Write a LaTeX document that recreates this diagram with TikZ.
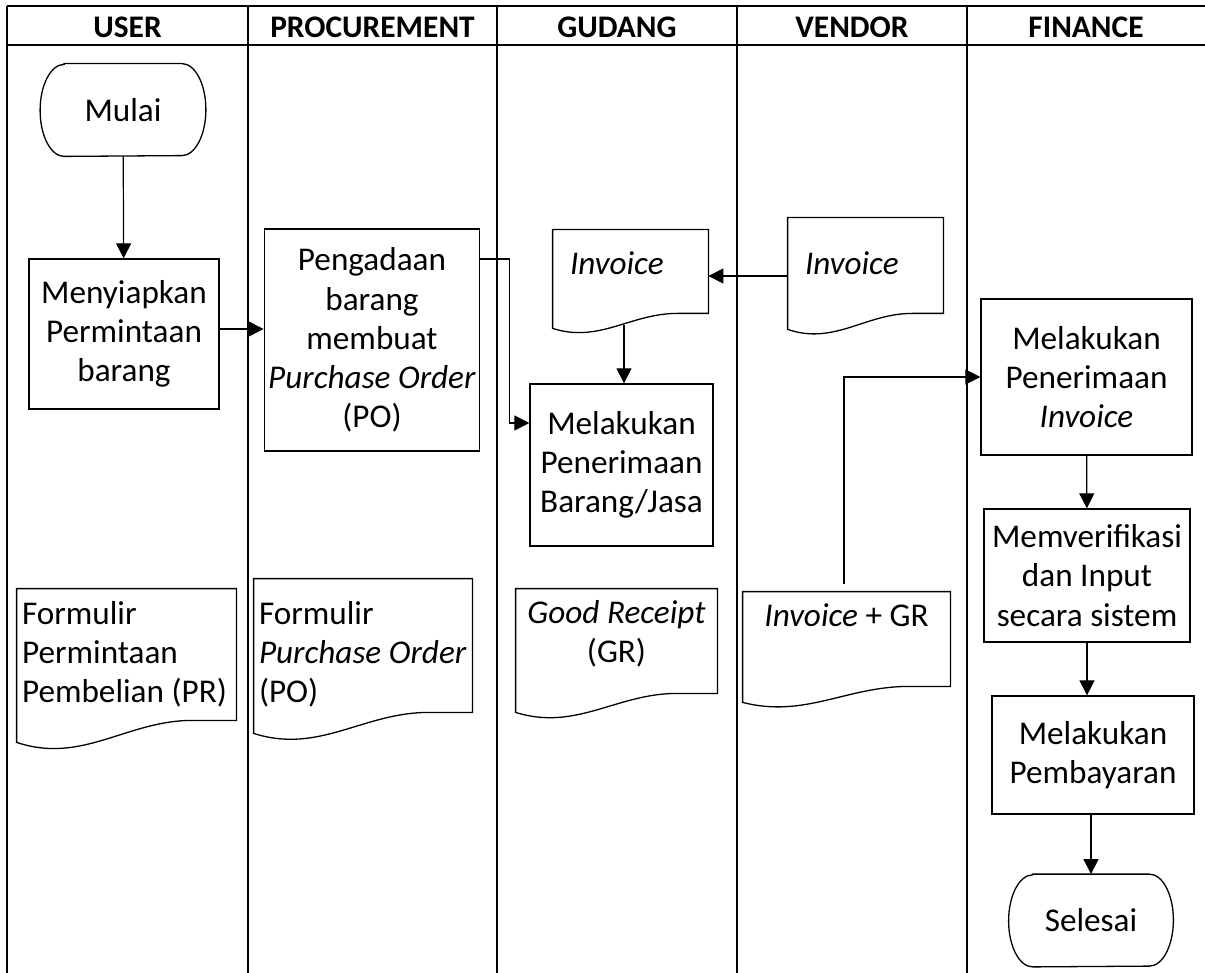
\documentclass[tikz,border=0pt]{standalone}
\usepackage{fontspec}
\setmainfont{Carlito}
\usetikzlibrary{calc,arrows.meta}

\newcommand{\isi}{\fontsize{16.6pt}{19.6pt}\selectfont}
\newcommand{\judul}{\fontsize{15.7pt}{18pt}\selectfont\bfseries}

\tikzset{
	lajur/.style={line width=1pt},
	bentuk/.style={line width=0.65pt},
	proses/.style={draw, bentuk, align=center, font=\isi, inner sep=2pt},
	dok/.style={font=\isi, align=flush left, inner sep=0pt},
	ujungnode/.style={font=\isi, minimum height=46pt},
	panah/.style={-{Triangle[length=7.5pt, width=7.5pt]}, line width=0.6pt}
}

% #1 node, #2 sisa sisi kanan, #3 dalam gelombang
\newcommand{\dokumen}[3]{%
	\draw [bentuk] (#1.north west) -- (#1.north east) -- ($(#1.south east)+(0,#2)$)
		-- ($(#1.south west)!0.8!(#1.south east)+(0,#2)$)
		.. controls ($(#1.south west)!0.5!(#1.south east)+(0,#2)$) and ($(#1.south west)!0.3!(#1.south east)+(0,#2+2*#3)$)
		.. ($(#1.south west)+(0,#2+#3)$) -- cycle;}

\newcommand{\ujung}[1]{%
	\draw [bentuk] (#1.north west) -- (#1.north east)
		arc [start angle=90, end angle=-90, x radius=12pt, y radius=23pt]
		-- (#1.south west)
		arc [start angle=270, end angle=90, x radius=12pt, y radius=23pt] -- cycle;}

\begin{document}
\begin{tikzpicture}[x=0.5pt, y=-0.5pt]
	%\draw[help lines] (0,0) grid (1205,973);
	\useasboundingbox (0,0) rectangle (1205,973);
	
	\draw [lajur] (7, 6) -- (1205, 6);
	\draw [lajur] (7, 45) -- (1205, 45);
	\draw [lajur] (7, 6) -- (7, 973);
	\draw [lajur] (248, 6) -- (248, 973);
	\draw [lajur] (497, 6) -- (497, 973);
	\draw [lajur] (737, 6) -- (737, 973);
	\draw [lajur] (967, 6) -- (967, 973);
	
	\node [font=\judul] (user) at (127.5, 27) {USER};
	\node [font=\judul] (procurement) at (372.5, 27) {PROCUREMENT};
	\node [font=\judul] (gudang) at (617, 27) {GUDANG};
	\node [font=\judul] (vendor) at (852, 27) {VENDOR};
	\node [font=\judul] (finance) at (1086, 27) {FINANCE};
	
	% user
	\node [ujungnode, minimum width=58.5pt] (mulai) at (123, 110) {Mulai};
	\ujung{mulai}
	\node [proses, minimum width=95pt, minimum height=75pt] (siap) at (124, 334) {Menyiapkan\\Permintaan\\barang};
	\node [dok, minimum width=109.5pt, minimum height=65pt, text width=104.5pt] (pr) at (126.5, 654) {Formulir\\Permintaan\\Pembelian (PR)};
	\dokumen{pr}{1}{22}
	
	% procurement
	\node [proses, minimum width=106pt, minimum height=111pt] (po) at (372, 340) {Pengadaan\\barang\\membuat\\\textit{Purchase Order}\\(PO)};
	\node [dok, minimum width=109pt, minimum height=75pt, text width=104pt] (fpo) at (363, 654) {Formulir\\\textit{Purchase Order}\\(PO)};
	\dokumen{fpo}{-17}{21}
	
	% gudang
	\node [dok, minimum width=77.5pt, minimum height=33pt, text width=60.5pt] (invg) at (630.5, 263) {\textit{Invoice}};
	\dokumen{invg}{17}{15}
	\node [proses, minimum width=91.5pt, minimum height=81pt] (terima) at (621.5, 465) {Melakukan\\Penerimaan\\Barang/Jasa};
	\node [dok, align=flush center, minimum width=100.5pt, minimum height=45pt, text width=100.5pt] (gr) at (616.5, 634) {\textit{Good Receipt}\\(GR)};
	\dokumen{gr}{14}{19}
	
	% vendor
	\node [dok, minimum width=77.5pt, minimum height=45pt, text width=60.5pt] (invv) at (865.5, 263) {\textit{Invoice}};
	\dokumen{invv}{5}{16}
	\node [dok, align=flush center, minimum width=103.5pt, minimum height=23pt, text width=103.5pt] (invgr) at (846.5, 615) {\textit{Invoice} + GR};
	\dokumen{invgr}{48}{16}
	
	% finance
	\node [proses, minimum width=105.5pt, minimum height=78pt] (invfin) at (1086.5, 377) {Melakukan\\Penerimaan\\\textit{Invoice}};
	\node [proses, minimum width=103pt, minimum height=66.5pt] (verif) at (1087, 575.5) {Memverifikasi\\dan Input\\secara sistem};
	\node [proses, minimum width=101pt, minimum height=59pt] (bayar) at (1093, 755) {Melakukan\\Pembayaran};
	\node [ujungnode, minimum width=58pt] (selesai) at (1091, 920.5) {Selesai};
	\ujung{selesai}
	
	% alur
	\draw [panah] (mulai) -- (siap);
	\coordinate (a1) at ($(siap.east)+(0,-5)$);
	\draw [panah] (a1) -- (a1 -| po.west);
	\coordinate (a2) at ($(po.east)+(0,-81)$);
	\draw [panah] (a2) -- ++(29,0) |- ($(terima.west)+(0,-42)$);
	\coordinate (a3) at ($(invv.west)+(0,13)$);
	\draw [panah] (a3) -- (a3 -| invg.east);
	\coordinate (a4) at ($(invg.south)+(-6.5,29)$);
	\draw [panah] (a4) -- (a4 |- terima.north);
	\draw [panah] ($(invgr.north)+(-2.5,-8)$) |- (invfin.west);
	\draw [panah] (invfin) -- (verif);
	\draw [panah] (verif.south) -- (verif.south |- bayar.north);
	\draw [panah] (selesai.north |- bayar.south) -- (selesai.north);
	
\end{tikzpicture}
\end{document}
